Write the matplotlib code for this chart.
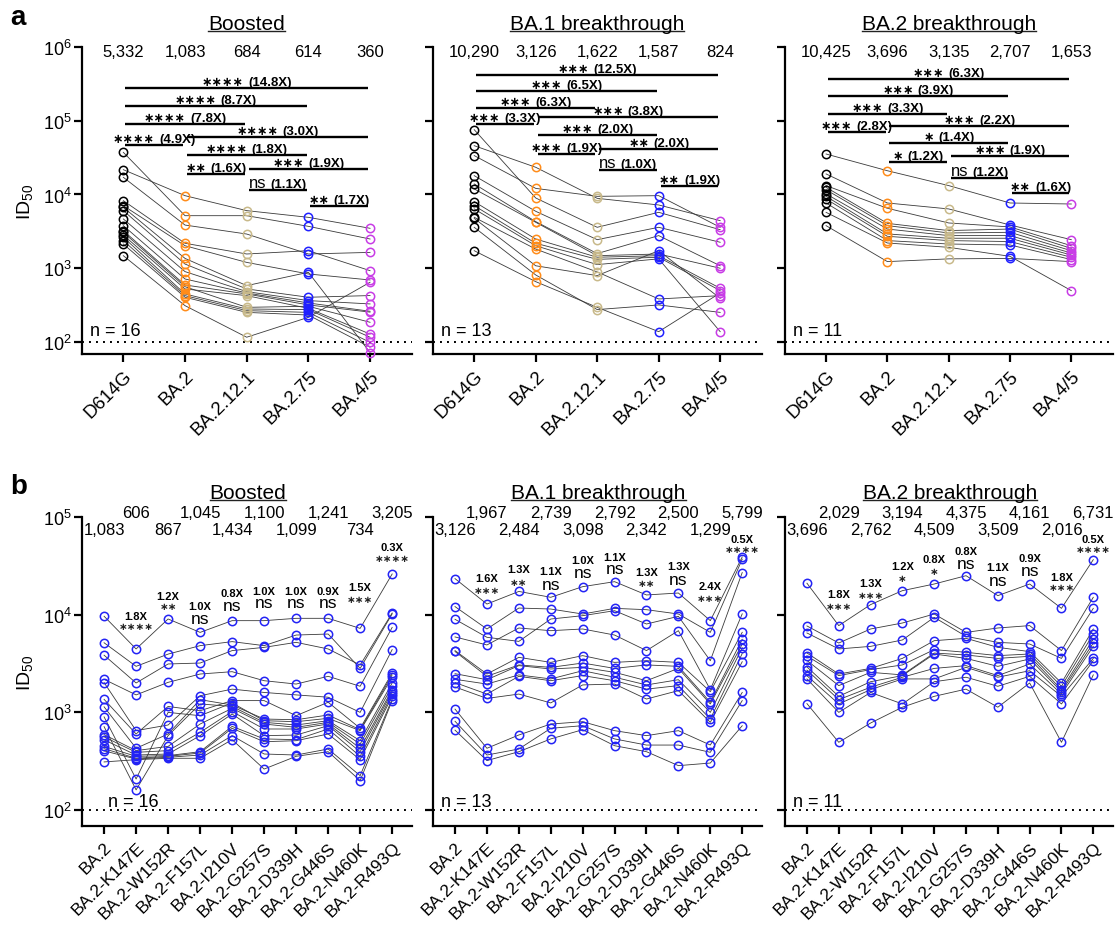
import matplotlib
matplotlib.use("Agg")
import matplotlib.pyplot as plt
from matplotlib import transforms
from matplotlib.lines import Line2D
from matplotlib.offsetbox import TextArea, HPacker, AnnotationBbox
from matplotlib.ticker import NullLocator

plt.rcParams['font.family'] = ['Liberation Sans', 'DejaVu Sans']
plt.rcParams['mathtext.fontset'] = 'custom'
plt.rcParams['mathtext.rm'] = 'Liberation Sans'
plt.rcParams['mathtext.it'] = 'Liberation Sans:italic'
plt.rcParams['mathtext.bf'] = 'Liberation Sans:bold'

# ============================================================
# data
# ============================================================
cohorts = ["Boosted", "BA.1 breakthrough", "BA.2 breakthrough"]
n_labels = ["n = 16", "n = 13", "n = 11"]

variants_a = ["D614G", "BA.2", "BA.2.12.1", "BA.2.75", "BA.4/5"]
colors_a = ["#000000", "#FF8C1A", "#C8B98A", "#1F1FFF", "#C83CE6"]

# panel a -- ID50 per subject (same subject order in every list)
boosted_d614g = [21700, 37300, 17100, 8250, 7060, 6700, 6040, 4660, 3780, 3230, 3070, 2820, 2630, 2370, 2130, 1480]
boosted_ba2 = [9640, 5160, 3850, 2180, 2020, 1360, 1140, 900, 715, 593, 562, 524, 448, 425, 404, 311]
boosted_ba2121 = [6040, 5160, 2910, 1560, 1200, 581, 524, 482, 462, 448, 295, 425, 280, 266, 252, 116]
boosted_ba275 = [4900, 3700, 1560, 1730, 836, 881, 404, 364, 338, 318, 305, 286, 275, 252, 232, 216]
boosted_ba45 = [3480, 2490, 1640, 927, 693, 72, 426, 328, 261, 254, 185, 128, 116, 99, 85, 646]

ba1_d614g = [45900, 33700, 75700, 18000, 13900, 11900, 8000, 7060, 6370, 4910, 4750, 3590, 1730]
ba1_ba2 = [23400, 12100, 8970, 5920, 4290, 4200, 2490, 2180, 2020, 1820, 1080, 811, 658]
ba1_ba2121 = [8870, 9440, 3590, 2440, 1580, 1480, 1410, 1320, 1120, 891, 794, 275, 295]
ba1_ba275 = [7210, 9640, 5730, 3590, 2770, 1560, 1480, 1410, 1340, 383, 1730, 318, 138]
ba1_ba45 = [4420, 3590, 3330, 2250, 1080, 1000, 535, 497, 138, 425, 391, 252, 462]

ba2_d614g = [35400, 19000, 13200, 12500, 11600, 10200, 9440, 8690, 7670, 5730, 3780]
ba2_ba2 = [21000, 7670, 6500, 4060, 3780, 3400, 2920, 2710, 2370, 2200, 1230]
ba2_ba2121 = [13200, 6370, 4110, 3240, 3010, 2770, 2550, 2370, 2130, 1920, 1340]
ba2_ba275 = [7670, 3860, 3630, 3400, 3070, 2770, 2550, 2300, 2070, 1450, 1360]
ba2_ba45 = [7430, 2440, 2020, 1860, 1730, 1610, 1510, 1410, 1310, 497, 1230]

gmt_a_boosted = ["5,332", "1,083", "684", "614", "360"]
gmt_a_ba1 = ["10,290", "3,126", "1,622", "1,587", "824"]
gmt_a_ba2 = ["10,425", "3,696", "3,135", "2,707", "1,653"]

# pairwise comparisons in panel a
pairs_a = [(0, 4), (0, 3), (0, 2), (0, 1), (1, 4), (1, 3), (1, 2), (2, 4), (2, 3), (3, 4)]
sig_a_boosted = ["****", "****", "****", "****", "****", "****", "**", "***", "ns", "**"]
fold_a_boosted = ["14.8X", "8.7X", "7.8X", "4.9X", "3.0X", "1.8X", "1.6X", "1.9X", "1.1X", "1.7X"]
sig_a_ba1 = ["***", "***", "***", "***", "***", "***", "***", "**", "ns", "**"]
fold_a_ba1 = ["12.5X", "6.5X", "6.3X", "3.3X", "3.8X", "2.0X", "1.9X", "2.0X", "1.0X", "1.9X"]
sig_a_ba2 = ["***", "***", "***", "***", "***", "*", "*", "***", "ns", "**"]
fold_a_ba2 = ["6.3X", "3.9X", "3.3X", "2.8X", "2.2X", "1.4X", "1.2X", "1.9X", "1.2X", "1.6X"]

variants_b = ["BA.2", "BA.2-K147E", "BA.2-W152R", "BA.2-F157L", "BA.2-I210V",
              "BA.2-G257S", "BA.2-D339H", "BA.2-G446S", "BA.2-N460K", "BA.2-R493Q"]

# panel b -- BA.2 column is the same sera as panel a
boosted_k147e = [4460, 2960, 2000, 1510, 650, 601, 429, 208, 161, 406, 390, 366, 355, 339, 333, 328]
boosted_w152r = [9040, 3950, 3130, 2030, 743, 1150, 601, 1000, 578, 449, 406, 375, 361, 355, 347, 339]
boosted_f157l = [6590, 4820, 3200, 2470, 1480, 1040, 1350, 925, 1220, 760, 625, 578, 396, 384, 366, 339]
boosted_i210v = [8690, 5300, 4290, 2610, 1730, 1320, 1190, 1250, 1150, 1100, 1020, 962, 719, 687, 578, 526]
boosted_g257s = [8690, 4820, 4630, 2110, 1600, 1320, 855, 822, 791, 760, 676, 578, 535, 501, 375, 263]
boosted_d339h = [9180, 6190, 5210, 1950, 1510, 925, 841, 803, 743, 703, 676, 586, 526, 513, 366, 355]
boosted_g446s = [9180, 6340, 4460, 2340, 1430, 1270, 940, 869, 822, 791, 760, 731, 676, 601, 422, 396]
boosted_n460k = [7240, 2820, 3050, 1850, 1000, 687, 665, 650, 513, 474, 429, 396, 355, 328, 225, 200]
boosted_r493q = [26100, 10200, 10400, 7410, 4390, 2530, 2420, 2290, 2000, 1850, 1710, 1630, 1540, 1460, 1370, 1320]

ba1_k147e = [12850, 7140, 5870, 4900, 2470, 2340, 2160, 1950, 1540, 1390, 429, 366, 321]
ba1_w152r = [17300, 11700, 5330, 7310, 3660, 3060, 3010, 2420, 2340, 1540, 587, 422, 396]
ba1_f157l = [15070, 11430, 9030, 6860, 3250, 2890, 2780, 2200, 2110, 1250, 760, 687, 535]
ba1_i210v = [19360, 10160, 9770, 7140, 3810, 3200, 2890, 2670, 2380, 1910, 803, 731, 665]
ba1_g257s = [21780, 11610, 10990, 6190, 3250, 2820, 2570, 2290, 2110, 1950, 650, 535, 456]
ba1_d339h = [15920, 11250, 8030, 4290, 3380, 3060, 2110, 1910, 1730, 1370, 578, 463, 396]
ba1_g446s = [16670, 10160, 9620, 6860, 3250, 2960, 2820, 2160, 1880, 1670, 650, 463, 285]
ba1_n460k = [8690, 6590, 3380, 1710, 1630, 1270, 1220, 1000, 855, 791, 463, 390, 303]
ba1_r493q = [39000, 37000, 27000, 10200, 6600, 5600, 5000, 4600, 4000, 3300, 1600, 1320, 730]

ba2_k147e = [7730, 5130, 4460, 2470, 2380, 1880, 1460, 1350, 1220, 1000, 494]
ba2_w152r = [12680, 7140, 4740, 2820, 2740, 2570, 2060, 1810, 1710, 1600, 778]
ba2_f157l = [17620, 8220, 5510, 3570, 3060, 2420, 2380, 2290, 2200, 1220, 1130]
ba2_i210v = [20610, 10160, 9400, 5420, 4390, 4050, 3960, 2820, 2200, 2060, 1460]
ba2_g257s = [25070, 6590, 6000, 5730, 4120, 3870, 3570, 3010, 2890, 2290, 1730]
ba2_d339h = [15670, 7310, 5210, 4630, 3810, 3570, 2960, 2380, 2290, 1850, 1130]
ba2_g446s = [20610, 7730, 5010, 4190, 3960, 3750, 3520, 3130, 2670, 2340, 2000]
ba2_n460k = [11610, 4290, 3570, 2000, 1850, 1710, 1630, 1540, 1460, 1220, 494]
ba2_r493q = [36600, 15070, 11610, 7140, 6340, 5630, 5130, 4740, 3570, 3380, 2420]

gmt_b_boosted = ["1,083", "606", "867", "1,045", "1,434", "1,100", "1,099", "1,241", "734", "3,205"]
gmt_b_ba1 = ["3,126", "1,967", "2,484", "2,739", "3,098", "2,792", "2,342", "2,500", "1,299", "5,799"]
gmt_b_ba2 = ["3,696", "2,029", "2,762", "3,194", "4,509", "4,375", "3,509", "4,161", "2,016", "6,731"]

fold_b_boosted = ["1.8X", "1.2X", "1.0X", "0.8X", "1.0X", "1.0X", "0.9X", "1.5X", "0.3X"]
sig_b_boosted = ["****", "**", "ns", "ns", "ns", "ns", "ns", "***", "****"]
fold_b_ba1 = ["1.6X", "1.3X", "1.1X", "1.0X", "1.1X", "1.3X", "1.3X", "2.4X", "0.5X"]
sig_b_ba1 = ["***", "**", "ns", "ns", "ns", "**", "ns", "***", "****"]
fold_b_ba2 = ["1.8X", "1.3X", "1.2X", "0.8X", "0.8X", "1.1X", "0.9X", "1.8X", "0.5X"]
sig_b_ba2 = ["***", "***", "*", "*", "ns", "ns", "ns", "***", "****"]

# ============================================================
# layout (log10 heights of annotations)
# ============================================================
bracket_h_a = [
    [5.444, 5.200, 4.956, 4.671, 4.780, 4.536, 4.278, 4.346, 4.061, 3.844],
    [5.620, 5.403, 5.173, 4.956, 5.051, 4.807, 4.549, 4.617, 4.332, 4.115],
    [5.566, 5.336, 5.092, 4.847, 4.929, 4.698, 4.441, 4.522, 4.224, 4.020],
]
fold_h_b = [
    [3.990, 4.188, 4.092, 4.222, 4.246, 4.246, 4.246, 4.280, 4.693],
    [4.373, 4.468, 4.450, 4.563, 4.588, 4.434, 4.495, 4.291, 4.775],
    [4.212, 4.324, 4.495, 4.570, 4.655, 4.485, 4.577, 4.383, 4.775],
]
sig_h_b = [
    [3.887, 4.086, 3.956, 4.099, 4.120, 4.120, 4.120, 4.161, 4.580],
    [4.256, 4.338, 4.314, 4.427, 4.468, 4.324, 4.365, 4.168, 4.672],
    [4.092, 4.202, 4.373, 4.450, 4.519, 4.348, 4.450, 4.280, 4.672],
]

panel_a = [
    [boosted_d614g, boosted_ba2, boosted_ba2121, boosted_ba275, boosted_ba45],
    [ba1_d614g, ba1_ba2, ba1_ba2121, ba1_ba275, ba1_ba45],
    [ba2_d614g, ba2_ba2, ba2_ba2121, ba2_ba275, ba2_ba45],
]
panel_b = [
    [boosted_ba2, boosted_k147e, boosted_w152r, boosted_f157l, boosted_i210v,
     boosted_g257s, boosted_d339h, boosted_g446s, boosted_n460k, boosted_r493q],
    [ba1_ba2, ba1_k147e, ba1_w152r, ba1_f157l, ba1_i210v,
     ba1_g257s, ba1_d339h, ba1_g446s, ba1_n460k, ba1_r493q],
    [ba2_ba2, ba2_k147e, ba2_w152r, ba2_f157l, ba2_i210v,
     ba2_g257s, ba2_d339h, ba2_g446s, ba2_n460k, ba2_r493q],
]
gmt_a = [gmt_a_boosted, gmt_a_ba1, gmt_a_ba2]
gmt_b = [gmt_b_boosted, gmt_b_ba1, gmt_b_ba2]
sig_a = [sig_a_boosted, sig_a_ba1, sig_a_ba2]
fold_a = [fold_a_boosted, fold_a_ba1, fold_a_ba2]
sig_b = [sig_b_boosted, sig_b_ba1, sig_b_ba2]
fold_b = [fold_b_boosted, fold_b_ba1, fold_b_ba2]

W, H = 1115, 937
LINE_COL = "#3a3a3a"
BLUE_B = "#2323F5"
STAR_FONT = ['DejaVu Sans']


def stars(s):
    return s.replace("*", "\u2217")


def style_axis(ax, ymax_exp, xlim, labels, show_ylab, xfs):
    ax.set_yscale('log')
    ax.set_ylim(10 ** 1.837, 10 ** ymax_exp)
    ax.set_xlim(*xlim)
    ax.yaxis.set_minor_locator(NullLocator())
    exps = list(range(2, ymax_exp + 1))
    ax.set_yticks([10.0 ** e for e in exps])
    if show_ylab:
        ax.set_yticklabels([r'$10^{%d}$' % e for e in exps], fontsize=13)
        ax.set_ylabel('ID$_{50}$', fontsize=14)
        ax.yaxis.set_label_coords(-0.142, 0.5)
    else:
        ax.set_yticklabels([])
    ax.set_xticks(range(len(labels)))
    ax.set_xticklabels(labels, rotation=45, ha='right', va='top',
                       rotation_mode='anchor', fontsize=xfs)
    for s in ['top', 'right']:
        ax.spines[s].set_visible(False)
    for s in ['left', 'bottom']:
        ax.spines[s].set_linewidth(1.6)
    ax.tick_params(axis='both', direction='out', width=1.6, length=6)
    ax.tick_params(axis='y', pad=1.5)
    ax.axhline(100, color='k', lw=1.4, ls=(0, (1, 2.6)), zorder=1)


def draw_subjects(ax, cols, colors):
    n = len(cols[0])
    xs = list(range(len(cols)))
    for s in range(n):
        ax.plot(xs, [c[s] for c in cols], color=LINE_COL, lw=0.6, zorder=2)
    for i, c in enumerate(cols):
        ax.plot([i] * n, c, ls='none', marker='o', ms=6, mfc='none',
                mec=colors[i], mew=1.1, zorder=3, clip_on=False)


def bracket(ax, i, j, h, sig, fold):
    y = 10 ** h
    ax.plot([i + 0.03, j - 0.03], [y, y], color='k', lw=1.7,
            solid_capstyle='butt', clip_on=False, zorder=4)
    if sig == 'ns':
        t1 = TextArea('ns', textprops=dict(fontsize=12, color='k'))
    else:
        t1 = TextArea(stars(sig), textprops=dict(fontsize=9, fontweight='bold',
                                                 color='k', family=STAR_FONT))
    t2 = TextArea('(' + fold + ')', textprops=dict(fontsize=9.5, fontweight='bold', color='k'))
    box = HPacker(children=[t1, t2], align='baseline', pad=0, sep=3)
    ab = AnnotationBbox(box, ((i + j) / 2, y), xycoords='data', box_alignment=(0.5, 0.0),
                        frameon=False, pad=0.0, annotation_clip=False, zorder=5)
    ax.add_artist(ab)


fig = plt.figure(figsize=(W / 100, H / 100), dpi=100)

lefts = [82, 433, 785]
rights = [412, 762, 1113]
titles = []

# ---------------- panel a ----------------
for k in range(3):
    ax = fig.add_axes([lefts[k] / W, 1 - 355 / H, (rights[k] - lefts[k]) / W, (355 - 48) / H])
    style_axis(ax, 6, (-0.67, 4.68), variants_a, k == 0, 13.5)
    draw_subjects(ax, panel_a[k], colors_a)
    for i, g in enumerate(gmt_a[k]):
        ax.text(i, 10 ** 5.94, g, ha='center', va='center', fontsize=12)
    for p, (i, j) in enumerate(pairs_a):
        bracket(ax, i, j, bracket_h_a[k][p], sig_a[k][p], fold_a[k][p])
    ax.text(0.025, 0.078, n_labels[k], transform=ax.transAxes, fontsize=13,
            ha='left', va='center')
    tr = transforms.blended_transform_factory(ax.transData, fig.transFigure)
    titles.append(fig.text(2, 1 - 29.5 / H, cohorts[k], transform=tr, ha='center',
                           va='baseline', fontsize=15))

# ---------------- panel b ----------------
n_x_b = [0.08, 0.025, 0.025]
for k in range(3):
    ax = fig.add_axes([lefts[k] / W, 1 - 827 / H, (rights[k] - lefts[k]) / W, (827 - 518) / H])
    style_axis(ax, 5, (-0.69, 9.62), variants_b, k == 0, 12.5)
    draw_subjects(ax, panel_b[k], [BLUE_B] * 10)
    xt = ax.get_xaxis_transform()
    for i, g in enumerate(gmt_b[k]):
        yy = 1.016 if i % 2 == 1 else 0.958
        ax.text(i, yy, g, transform=xt, ha='center', va='center', fontsize=12)
    for m in range(9):
        x = m + 1
        ax.text(x, 10 ** fold_h_b[k][m], fold_b[k][m], ha='center', va='center',
                fontsize=8, fontweight='bold', clip_on=False)
        if sig_b[k][m] == 'ns':
            ax.text(x, 10 ** sig_h_b[k][m], 'ns', ha='center', va='center', fontsize=12.5)
        else:
            ax.text(x, 10 ** sig_h_b[k][m], stars(sig_b[k][m]), ha='center', va='center',
                    fontsize=7.5, fontweight='bold', color='#222222', family=STAR_FONT)
    ax.text(n_x_b[k], 0.078, n_labels[k], transform=ax.transAxes, fontsize=13,
            ha='left', va='center')
    tr = transforms.blended_transform_factory(ax.transData, fig.transFigure)
    titles.append(fig.text(4.5, 1 - 499 / H, cohorts[k], transform=tr, ha='center',
                           va='baseline', fontsize=15))

fig.text(0.009, 1 - 18 / H, 'a', fontsize=20, fontweight='bold', va='center')
fig.text(0.009, 1 - 487 / H, 'b', fontsize=20, fontweight='bold', va='center')

# underline titles
fig.canvas.draw()
renderer = fig.canvas.get_renderer()
for t in titles:
    bb = t.get_window_extent(renderer)
    x0, x1 = bb.x0 / W, bb.x1 / W
    yb = t.get_position()[1] - 2.0 / H
    fig.add_artist(Line2D([x0, x1], [yb, yb], transform=fig.transFigure,
                          color='#222222', lw=1.0))

fig.savefig('out.png', dpi=100)
